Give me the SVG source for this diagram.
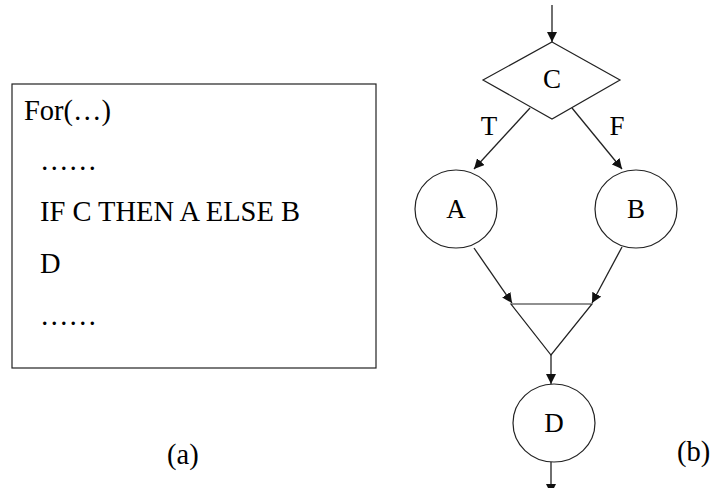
<svg xmlns="http://www.w3.org/2000/svg" width="712" height="488" viewBox="0 0 712 488">
<style>
  text { font-family: 'Liberation Serif', 'Times New Roman', serif; fill: #000; }
  .code { font-size: 28.5px; }
  .lbl { font-size: 27px; text-anchor: middle; }
  .shape { fill: #fff; stroke: #222; stroke-width: 1.2; }
  .edge { fill: none; stroke: #222; stroke-width: 1.3; marker-end: url(#arr); }
</style>
<defs>
  <marker id="arr" viewBox="0 0 10 10" refX="10" refY="5" markerWidth="10" markerHeight="10" markerUnits="userSpaceOnUse" orient="auto">
    <path d="M0,0 L10,5 L0,10 Z" fill="#111"/>
  </marker>
</defs>
<rect width="712" height="488" fill="#fff"/>

<g id="code-box">
  <rect class="shape" x="12" y="84" width="364" height="284"/>
  <text class="code" x="24" y="120">For(…)</text>
  <text class="code" x="40" y="170">……</text>
  <text class="code" x="40" y="221">IF C THEN A ELSE B</text>
  <text class="code" x="40" y="273">D</text>
  <text class="code" x="40" y="325">……</text>
</g>
<text class="code" x="167" y="464">(a)</text>
<text class="code" x="677" y="461">(b)</text>

<g id="connectors">
  <line class="edge" x1="552" y1="5" x2="552" y2="42"/>
  <line class="edge" x1="530" y1="108" x2="474" y2="169"/>
  <line class="edge" x1="572" y1="108" x2="622" y2="169"/>
  <line class="edge" x1="474" y1="248" x2="512" y2="303"/>
  <line class="edge" x1="622" y1="247" x2="592" y2="303"/>
  <line class="edge" x1="551" y1="355" x2="551" y2="384"/>
  <line class="edge" x1="551" y1="462" x2="551" y2="494"/>
  <text class="lbl" x="489" y="135">T</text>
  <text class="lbl" x="617" y="135">F</text>
</g>

<g id="node-C">
  <polygon class="shape" points="552,42 620,80 552,119 483,80"/>
  <text class="lbl" x="552" y="88">C</text>
</g>
<g id="node-A">
  <ellipse class="shape" cx="456" cy="209" rx="41" ry="39"/>
  <text class="lbl" x="456" y="218">A</text>
</g>
<g id="node-B">
  <ellipse class="shape" cx="636" cy="209" rx="41" ry="39"/>
  <text class="lbl" x="636" y="218">B</text>
</g>
<g id="node-merge">
  <polygon class="shape" points="511,304 592,304 551,355"/>
</g>
<g id="node-D">
  <ellipse class="shape" cx="554" cy="423" rx="41" ry="39"/>
  <text class="lbl" x="554" y="432">D</text>
</g>
</svg>
